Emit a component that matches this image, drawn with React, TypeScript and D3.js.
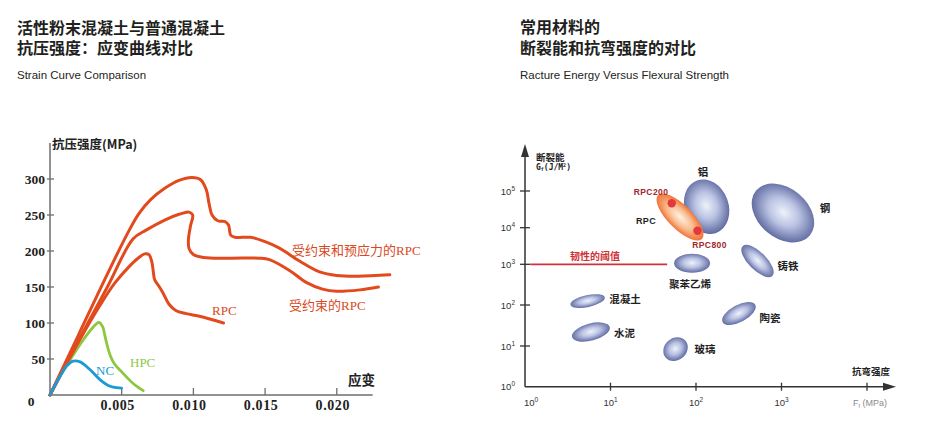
import React from 'react';
import * as d3 from 'd3';

// ---------- Left chart data: compressive stress (MPa) vs strain ----------
const xTickValues = [0.005, 0.01, 0.015, 0.02];
const xTickLabels = ['0.005', '0.010', '0.015', '0.020'];
const yTickValues = [50, 100, 150, 200, 250, 300];

const prestressedStrain = [0, 0.002, 0.004, 0.0055, 0.0062, 0.007, 0.008, 0.009, 0.0099, 0.0105, 0.0109, 0.0111, 0.0113, 0.0117, 0.0122, 0.01245, 0.0126, 0.0129, 0.014, 0.015, 0.016, 0.0174, 0.0188, 0.02, 0.0215, 0.0237];
const prestressedStress = [0, 84, 168, 228, 252, 271, 287, 298, 302, 299, 285, 265, 250, 242, 241, 236, 222, 219, 219, 213, 204, 186, 171, 166, 165, 167];

const confinedStrain = [0, 0.002, 0.004, 0.0058, 0.0067, 0.008, 0.009, 0.0097, 0.00995, 0.0098, 0.00965, 0.0097, 0.01, 0.0107, 0.0125, 0.0146, 0.0153, 0.0167, 0.0179, 0.019, 0.02, 0.0216, 0.0229];
const confinedStress = [0, 76, 150, 217, 229, 243, 251, 254, 250, 235, 215, 203, 195, 191, 190, 190, 188, 173, 156, 147, 144, 146, 150];

const rpcStrain = [0, 0.002, 0.0035, 0.0045, 0.0055, 0.0062, 0.0066, 0.0069, 0.0071, 0.0072, 0.0073, 0.0076, 0.0079, 0.0083, 0.0088, 0.0095, 0.0105, 0.0121];
const rpcStress = [0, 74, 125, 155, 178, 191, 196, 195, 185, 172, 160, 151, 141, 126, 117, 113, 109, 100];

const hpcStrain = [0, 0.0008, 0.0015, 0.0023, 0.003, 0.0034, 0.00367, 0.0038, 0.00395, 0.0042, 0.0045, 0.0051, 0.0058, 0.0065];
const hpcStress = [0, 30, 52, 76, 94, 101, 95, 85, 72, 55, 43, 30, 16, 6];

const ncStrain = [0, 0.0007, 0.0012, 0.0016, 0.0021, 0.0028, 0.0035, 0.004, 0.0044, 0.005];
const ncStress = [0, 26, 41, 47, 46, 35, 21, 14, 11, 9.5];

// ---------- Right chart data: fracture energy vs flexural strength ----------
const xDecades = [1, 10, 100, 1000, 10000];
const xDecadeExp = ['0', '1', '2', '3'];
const yDecades = [1, 10, 100, 1000, 10000, 100000];
const yDecadeExp = ['0', '1', '2', '3', '4', '5'];

const materialNames = ['铝', '钢', '聚苯乙烯', '铸铁', '混凝土', '水泥', '玻璃', '陶瓷', 'RPC'];
const flexuralStrength = [133, 1040, 90, 524, 5.4, 5.9, 57.6, 318, 65];
const fractureEnergy = [37300, 25100, 1070, 1230, 125, 21.9, 8.4, 62, 19600];
const spreadStrength = [0.257, 0.41, 0.21, 0.246, 0.205, 0.228, 0.152, 0.216, 0.363]; // decades
const spreadEnergy = [0.327, 0.29, 0.111, 0.105, 0.07, 0.1, 0.129, 0.1, 0.14]; // decades
const tiltDeg = [-20, 40, 0, 45, -12, -15, -40, -28, 45];

const rpcGradeNames = ['RPC200', 'RPC800'];
const rpcGradeStrength = [52, 104];
const rpcGradeEnergy = [46200, 8280];

const toughnessThreshold = 1000;
const thresholdStrength = [1.15, 46];

// ---------- layout ----------
const W = 930;
const H = 422;

const xL = d3.scaleLinear().domain([0, 0.0225]).range([50, 372.65]);
const yL = d3.scaleLinear().domain([0, 300]).range([395, 179]);

const xR = d3.scaleLog().domain([1, 10000]).range([525, 867]);
const yR = d3.scaleLog().domain(yDecades).range([386.7, 346, 305, 264.3, 227.7, 191]);

const lineL = d3
  .line<[number, number]>()
  .x((d) => xL(d[0]))
  .y((d) => yL(d[1]))
  .curve(d3.curveCatmullRom.alpha(0.5));

const zip = (a: number[], b: number[]) => a.map((v, i) => [v, b[i]] as [number, number]);

const RED = '#e2491d';
const GREEN = '#8dc63f';
const BLUE = '#1c9ad6';

const labelPos: Record<string, [number, number]> = {
  '铝': [703, 176],
  '钢': [825, 212],
  '聚苯乙烯': [690, 288],
  '铸铁': [788, 270],
  '混凝土': [625, 303],
  '水泥': [624.5, 336.5],
  '玻璃': [705, 353],
  '陶瓷': [770, 322],
  'RPC': [646, 223.5],
};
const gradeLabelPos: Record<string, [number, number]> = {
  RPC200: [651, 194.5],
  RPC800: [709.5, 247.5],
};

const titleFont = '"Noto Sans CJK SC", sans-serif';

export default function App() {
  const decadePx = xR(10) - xR(1);
  return (
    <svg
      width={W}
      height={H}
      viewBox={`0 0 ${W} ${H}`}
      style={{ position: 'absolute', left: 0, top: 0, background: '#fff' }}
    >
      <defs>
        <radialGradient id="blueGrad" cx="50%" cy="48%" r="55%">
          <stop offset="0%" stopColor="#eef2fb" />
          <stop offset="45%" stopColor="#b9c2e2" />
          <stop offset="100%" stopColor="#56619a" />
        </radialGradient>
        <radialGradient id="orangeGrad" cx="50%" cy="50%" r="55%">
          <stop offset="0%" stopColor="#fff1e4" />
          <stop offset="50%" stopColor="#f9bb8e" />
          <stop offset="100%" stopColor="#ee6526" />
        </radialGradient>
      </defs>
      <rect width={W} height={H} fill="#fff" />

      {/* ---------- Titles ---------- */}
      <g fontFamily={titleFont} fontWeight={700} fontSize={16} fill="#231f20">
        <text x={17} y={33.5}>
          <tspan x={17}>活性粉末混凝土与普通混凝土</tspan>
          <tspan x={17} dy={20.5}>抗压强度：应变曲线对比</tspan>
        </text>
        <text x={520} y={33}>
          <tspan x={520}>常用材料的</tspan>
          <tspan x={520} dy={21}>断裂能和抗弯强度的对比</tspan>
        </text>
      </g>
      <g fontFamily='"Liberation Sans", Arial, sans-serif' fontSize={11.5} fill="#231f20">
        <text x={17} y={78.5}>Strain Curve Comparison</text>
        <text x={520} y={79}>Racture Energy Versus Flexural Strength</text>
      </g>

      {/* ---------- Left chart ---------- */}
      <g>
        <line x1={xL(0)} x2={xL(0)} y1={yL(0)} y2={yL(350)} stroke="#6e6e6e" strokeWidth={1.5} />
        <line x1={xL(0) - 1} x2={xL(0.0225)} y1={yL(0)} y2={yL(0)} stroke="#6e6e6e" strokeWidth={1.5} />
        {yTickValues.map((v) => (
          <g key={v}>
            <line x1={xL(0) - 3} x2={xL(0) + 4} y1={yL(v)} y2={yL(v)} stroke="#6e6e6e" strokeWidth={1.3} />
            <text
              x={45}
              y={yL(v) + 4.5}
              textAnchor="end"
              fontFamily='"Liberation Serif", serif'
              fontWeight={700}
              fontSize={13.5}
              fill="#222"
            >
              {v}
            </text>
          </g>
        ))}
        {xTickValues.map((v, i) => (
          <g key={v}>
            <line x1={xL(v)} x2={xL(v)} y1={yL(0) - 7} y2={yL(0)} stroke="#6e6e6e" strokeWidth={1.3} />
            <text
              x={xL(v) - 4}
              y={yL(0) + 15}
              textAnchor="middle"
              fontFamily='"Liberation Serif", serif'
              fontWeight={700}
              fontSize={14}
              letterSpacing={0.6}
              fill="#222"
            >
              {xTickLabels[i]}
            </text>
          </g>
        ))}
        <text x={31} y={yL(0) + 11} textAnchor="middle" fontFamily='"Liberation Serif", serif' fontWeight={700} fontSize={13.5} fill="#222">
          0
        </text>
        <text x={52} y={149} fontFamily={titleFont} fontWeight={700} fontSize={12.5} fill="#222">
          抗压强度(MPa)
        </text>
        <text x={348} y={385} fontFamily={titleFont} fontWeight={700} fontSize={13.5} fill="#222">
          应变
        </text>

        <path d={lineL(zip(hpcStrain, hpcStress)) || ''} fill="none" stroke={GREEN} strokeWidth={2.8} strokeLinecap="round" strokeLinejoin="round" />
        <path d={lineL(zip(rpcStrain, rpcStress)) || ''} fill="none" stroke={RED} strokeWidth={3} strokeLinecap="round" strokeLinejoin="round" />
        <path d={lineL(zip(confinedStrain, confinedStress)) || ''} fill="none" stroke={RED} strokeWidth={3} strokeLinecap="round" strokeLinejoin="round" />
        <path d={lineL(zip(prestressedStrain, prestressedStress)) || ''} fill="none" stroke={RED} strokeWidth={3} strokeLinecap="round" strokeLinejoin="round" />
        <path d={lineL(zip(ncStrain, ncStress)) || ''} fill="none" stroke={BLUE} strokeWidth={2.8} strokeLinecap="round" strokeLinejoin="round" />

        <g fontSize={13} fill="#d9481e">
          <text x={292} y={255}>
            <tspan fontFamily={titleFont}>受约束和预应力的</tspan>
            <tspan fontFamily='"Liberation Serif", serif'>RPC</tspan>
          </text>
          <text x={289} y={310}>
            <tspan fontFamily={titleFont}>受约束的</tspan>
            <tspan fontFamily='"Liberation Serif", serif'>RPC</tspan>
          </text>
          <text x={212} y={315} fontFamily='"Liberation Serif", serif'>RPC</text>
        </g>
        <text x={130} y={367} fontFamily='"Liberation Serif", serif' fontSize={13} fill={GREEN}>HPC</text>
        <text x={96} y={375} fontFamily='"Liberation Serif", serif' fontSize={13} fill={BLUE}>NC</text>
      </g>

      {/* ---------- Right chart ---------- */}
      <g>
        {materialNames.map((m, i) => {
          const cx = xR(flexuralStrength[i]);
          const cy = yR(fractureEnergy[i]);
          return (
            <ellipse
              key={m}
              cx={cx}
              cy={cy}
              rx={spreadStrength[i] * decadePx}
              ry={spreadEnergy[i] * decadePx}
              transform={`rotate(${tiltDeg[i]} ${cx} ${cy})`}
              fill={m === 'RPC' ? 'url(#orangeGrad)' : 'url(#blueGrad)'}
            />
          );
        })}
        {rpcGradeNames.map((g, i) => (
          <circle key={g} cx={xR(rpcGradeStrength[i])} cy={yR(rpcGradeEnergy[i])} r={4.2} fill="#e4393c" />
        ))}

        {/* axes */}
        <line x1={525} x2={525} y1={yR(1)} y2={152} stroke="#333" strokeWidth={1.5} />
        <polygon points={`525,144 521,157 529,157`} fill="#333" />
        <line x1={525} x2={888} y1={yR(1)} y2={yR(1)} stroke="#333" strokeWidth={1.5} />
        <polygon points={`896,${yR(1)} 883,${yR(1) - 4} 883,${yR(1) + 4}`} fill="#333" />

        {yDecades.map((v, i) => (
          <g key={v}>
            {i > 0 && <line x1={520} x2={530} y1={yR(v)} y2={yR(v)} stroke="#333" strokeWidth={1.3} />}
            <text x={515} y={yR(v) + 3.5} textAnchor="end" fontFamily='"Liberation Sans", sans-serif' fontSize={9.5} fill="#333">
              <tspan>10</tspan>
              <tspan dy={-4} fontSize={6.5}>{yDecadeExp[i]}</tspan>
            </text>
          </g>
        ))}
        {xDecades.map((v, i) => (
          <g key={v}>
            {i > 0 && <line x1={xR(v)} x2={xR(v)} y1={yR(1) - 4} y2={yR(1) + 4} stroke="#333" strokeWidth={1.3} />}
            {i < xDecadeExp.length && (
              <text x={xR(v) + (i === 0 ? 6 : 0)} y={406} textAnchor="middle" fontFamily='"Liberation Sans", sans-serif' fontSize={9.5} fill="#333">
                <tspan>10</tspan>
                <tspan dy={-4} fontSize={6.5}>{xDecadeExp[i]}</tspan>
              </text>
            )}
          </g>
        ))}
        <text x={853} y={406} fontFamily='"Liberation Sans", sans-serif' fontSize={9} fill="#8a8a8a">
          <tspan>F</tspan>
          <tspan dy={2} fontSize={5.5}>f</tspan>
          <tspan dy={-2}> (MPa)</tspan>
        </text>
        <text x={852} y={375} fontFamily={titleFont} fontWeight={700} fontSize={9.5} fill="#222">抗弯强度</text>
        <text x={536} y={161} fontFamily={titleFont} fontWeight={700} fontSize={9.5} fill="#222">断裂能</text>
        <text x={536} y={169.5} fontFamily='"DejaVu Sans Mono", monospace' fontWeight={700} fontSize={8} fill="#222">
          <tspan>G</tspan>
          <tspan dy={1.5} fontSize={5}>f</tspan>
          <tspan dy={-1.5}>(J/M</tspan>
          <tspan dy={-3} fontSize={5}>2</tspan>
          <tspan dy={3}>)</tspan>
        </text>

        {/* toughness threshold */}
        <line
          x1={xR(thresholdStrength[0])}
          x2={xR(thresholdStrength[1])}
          y1={yR(toughnessThreshold)}
          y2={yR(toughnessThreshold)}
          stroke="#d2323a"
          strokeWidth={1.8}
        />
        <text x={595} y={260} textAnchor="middle" fontFamily={titleFont} fontWeight={700} fontSize={10} fill="#cf3238">
          韧性的阈值
        </text>

        {materialNames.map((m) => (
          <text
            key={m}
            x={labelPos[m][0]}
            y={labelPos[m][1]}
            textAnchor="middle"
            fontFamily={m === 'RPC' ? '"Liberation Sans", sans-serif' : titleFont}
            fontWeight={700}
            fontSize={m === 'RPC' ? 9 : 10.5}
            letterSpacing={m === 'RPC' ? 0.4 : 0}
            fill="#1e1e1e"
          >
            {m}
          </text>
        ))}
        {rpcGradeNames.map((g) => (
          <text
            key={g}
            x={gradeLabelPos[g][0]}
            y={gradeLabelPos[g][1]}
            textAnchor="middle"
            fontFamily='"Liberation Sans", sans-serif'
            fontWeight={700}
            fontSize={8.5}
            letterSpacing={0.4}
            fill="#a3262a"
          >
            {g}
          </text>
        ))}
      </g>
    </svg>
  );
}
